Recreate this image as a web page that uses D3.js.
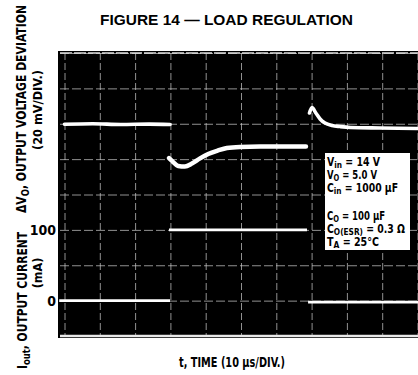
<!DOCTYPE html>
<html><head><meta charset="utf-8">
<script src="https://cdn.jsdelivr.net/npm/d3@7"></script>
<style>body{margin:0;background:#fff}svg{display:block}</style>
</head><body>
<svg id="c" width="418" height="375"></svg>
<script>
// ---- data ----
const timeGrid = [0,10,20,30,40,50,60,70,80,90,100];        // μs (10 μs/DIV.)
const divGrid = [0,1,2,3,4,5,6,7,8];                          // vertical divisions
const currentTicks = [0, 100];                                // mA
const currentTickLabels = ["0", "100"];
// output voltage deviation trace: [t (μs), ΔVO (mV)]
const vSeg1 = [[0,-0.3],[8,0],[16,-0.4],[24,-0.2],[29.9,-0.4]];
const vSeg2 = [[29.6,-19.4],[30.5,-21.1],[32.2,-23.9],[34.1,-24.2],[36.1,-22.5],[38.4,-19.6],
               [40.7,-17.1],[43.5,-15.1],[46,-13.7],[49.7,-13.1],[55.4,-12.9],[61,-12.9],[68.4,-12.9]];
const vSeg3 = [[69.4,6.1],[70.1,9.2],[71.2,6.1],[72.4,2.7],[73.8,0.4],[75.8,-1.0],[78.1,-1.6],
               [81,-2.1],[89.4,-2.4],[100.2,-2.7]];
// output current trace: [t (μs), Iout (mA)]
const iSeg1 = [[-1.5,0],[29.9,0]];
const iSeg2 = [[29.6,100],[68.7,100]];
const iSeg3 = [[69,-2],[100.2,-2]];
const legendLines = [
  ["V","in"," = 14 V"],
  ["V","O"," = 5.0 V"],
  ["C","in"," = 1000 μF"],
  ["","",""],
  ["C","O"," = 100 μF"],
  ["C","O(ESR)"," = 0.3 Ω"],
  ["T","A"," = 25°C"]
];

// ---- drawing ----
const svg = d3.select("#c");
const FONT = "'Liberation Sans Narrow','DejaVu Sans Condensed','Liberation Sans',Arial,sans-serif";
const x = d3.scaleLinear().domain([0,100]).range([64.5,417.5]);
const yDiv = d3.scaleLinear().domain([0,8]).range([336,53]);
const yV = d3.scaleLinear().domain([-120,40]).range([336,53]);
const yI = d3.scaleLinear().domain([-50,350]).range([336,53]);

// scope screen
svg.append("rect").attr("x",58).attr("y",51).attr("width",360).attr("height",287).attr("fill","#000");

// graticule (via axes)
const gx = svg.append("g").attr("transform","translate(0,53)")
  .call(d3.axisBottom(x).tickValues(timeGrid).tickSize(283).tickFormat(""));
gx.select(".domain").remove();
gx.selectAll("line").attr("stroke","#cfcfcf").attr("stroke-width",1).attr("stroke-dasharray","7,3").attr("opacity",0.7);
const gy = svg.append("g").attr("transform","translate(60,0)")
  .call(d3.axisRight(yDiv).tickValues(divGrid).tickSize(358).tickFormat(""));
gy.select(".domain").remove();
gy.selectAll("line").attr("stroke","#cfcfcf").attr("stroke-width",1).attr("stroke-dasharray","9,3").attr("opacity",0.7);
// bright bottom baseline
svg.append("line").attr("x1",60).attr("x2",418).attr("y1",yDiv(0)).attr("y2",yDiv(0))
  .attr("stroke","#e8e8e8").attr("stroke-width",2.5);
svg.append("line").attr("x1",60).attr("x2",418).attr("y1",yDiv(8)).attr("y2",yDiv(8))
  .attr("stroke","#e0e0e0").attr("stroke-width",1.3).attr("stroke-dasharray","12,2");

// traces
const lineV = d3.line().x(d=>x(d[0])).y(d=>yV(d[1])).curve(d3.curveMonotoneX);
const lineI = d3.line().x(d=>x(d[0])).y(d=>yI(d[1]));
[vSeg1,vSeg2,vSeg3].forEach((s,i)=>{
  svg.append("path").datum(s).attr("d",lineV).attr("fill","none").attr("stroke","#fff")
    .attr("stroke-width", i===1?4.5:3.6).attr("stroke-linecap","round");
});
[iSeg1,iSeg2,iSeg3].forEach(s=>{
  svg.append("path").datum(s).attr("d",lineI).attr("fill","none").attr("stroke","#fff")
    .attr("stroke-width",2.8);
});

// current tick labels
const ay = svg.append("g").attr("transform","translate(56,0)")
  .call(d3.axisLeft(yI).tickValues(currentTicks).tickSize(0).tickPadding(0)
    .tickFormat((d,i)=>currentTickLabels[i]));
ay.select(".domain").remove();
ay.selectAll("text").attr("font-family",FONT).attr("font-size",14).attr("font-weight","bold").attr("fill","#000");

// legend box
svg.append("rect").attr("x",325).attr("y",153).attr("width",85).attr("height",97).attr("fill","#fff");
const baselines = [166,179,192,207,220,233,246];
const lineWidths = [53,50,71,0,58,78,52];
legendLines.forEach((l,i)=>{
  if(!l[0]) return;
  const t = svg.append("text").attr("x",327).attr("y",baselines[i])
    .attr("font-family",FONT).attr("font-size",12).attr("font-weight","bold").attr("fill","#000")
    .attr("textLength",lineWidths[i]).attr("lengthAdjust","spacingAndGlyphs");
  t.append("tspan").text(l[0]);
  t.append("tspan").attr("font-size",9.5).attr("dy",2).text(l[1]);
  t.append("tspan").attr("dy",-2).text(l[2]);
});

// title
svg.append("text").attr("x",226.5).attr("y",25).attr("text-anchor","middle")
  .attr("font-family","'Liberation Sans',Arial,sans-serif").attr("font-size",15.5).attr("font-weight","bold")
  .attr("textLength",253).attr("lengthAdjust","spacingAndGlyphs").text("FIGURE 14 — LOAD REGULATION");

// y labels (voltage)
const yl1 = svg.append("text").attr("transform","translate(26,213) rotate(-90)")
  .attr("font-family",FONT).attr("font-size",14).attr("font-weight","bold")
  .attr("textLength",208).attr("lengthAdjust","spacingAndGlyphs");
yl1.append("tspan").text("ΔV");
yl1.append("tspan").attr("font-size",11).attr("dy",3).text("O");
yl1.append("tspan").attr("dy",-3).text(", OUTPUT VOLTAGE DEVIATION");
svg.append("text").attr("transform","translate(42,110) rotate(-90)").attr("text-anchor","middle")
  .attr("font-family",FONT).attr("font-size",12.5).attr("font-weight","bold")
  .attr("textLength",80).attr("lengthAdjust","spacingAndGlyphs").text("(20 mV/DIV.)");

// y labels (current)
const yl2 = svg.append("text").attr("transform","translate(27,369) rotate(-90)")
  .attr("font-family",FONT).attr("font-size",14).attr("font-weight","bold")
  .attr("textLength",137).attr("lengthAdjust","spacingAndGlyphs");
yl2.append("tspan").text("I");
yl2.append("tspan").attr("font-size",11).attr("dy",3).text("out");
yl2.append("tspan").attr("dy",-3).text(", OUTPUT CURRENT");
svg.append("text").attr("transform","translate(42,273) rotate(-90)").attr("text-anchor","middle")
  .attr("font-family",FONT).attr("font-size",12.5).attr("font-weight","bold").text("(mA)");

// x label
svg.append("text").attr("x",232).attr("y",367).attr("text-anchor","middle")
  .attr("font-family",FONT).attr("font-size",14).attr("font-weight","bold")
  .attr("textLength",106).attr("lengthAdjust","spacingAndGlyphs").text("t, TIME (10 μs/DIV.)");
</script>
</body></html>
